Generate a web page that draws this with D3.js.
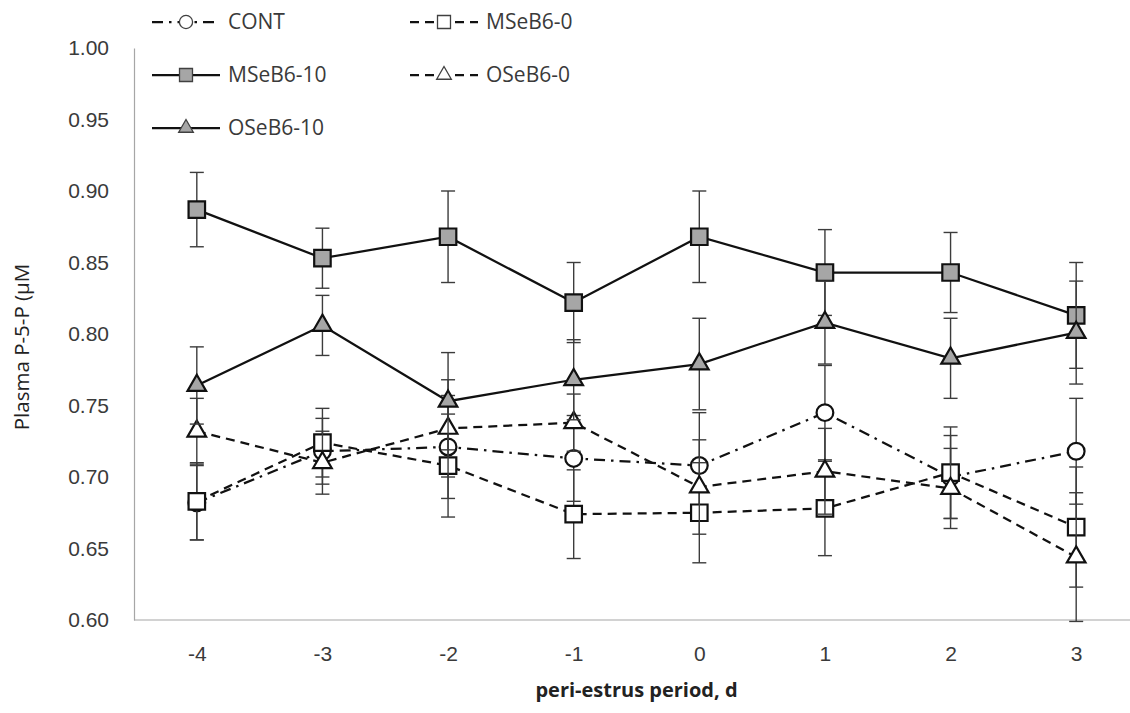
<!DOCTYPE html>
<html>
<head>
<meta charset="utf-8">
<script src="https://cdn.jsdelivr.net/npm/d3@7/dist/d3.min.js"></script>
<style>
  html, body { margin: 0; padding: 0; background: #fff; }
  svg { display: block; font-family: "Open Sans", "Noto Sans", sans-serif; }
</style>
</head>
<body>
<svg id="chart" width="1130" height="713"></svg>
<script>
// Peri-estrus days
const days = [-4, -3, -2, -1, 0, 1, 2, 3];

// Plasma P-5-P (µM), mean and SEM per treatment
const contMean   = [0.682, 0.718, 0.721, 0.713, 0.708, 0.745, 0.700, 0.718];
const contSem    = [0.026, 0.023, 0.036, 0.030, 0.037, 0.033, 0.029, 0.037];
const mseb0Mean  = [0.683, 0.724, 0.708, 0.674, 0.675, 0.678, 0.703, 0.665];
const mseb0Sem   = [0.027, 0.024, 0.036, 0.031, 0.035, 0.033, 0.032, 0.042];
const mseb10Mean = [0.887, 0.853, 0.868, 0.822, 0.868, 0.843, 0.843, 0.813];
const mseb10Sem  = [0.026, 0.021, 0.032, 0.028, 0.032, 0.030, 0.028, 0.037];
const oseb0Mean  = [0.732, 0.710, 0.734, 0.738, 0.693, 0.704, 0.692, 0.644];
const oseb0Sem   = [0.023, 0.022, 0.034, 0.020, 0.033, 0.030, 0.028, 0.045];
const oseb10Mean = [0.764, 0.806, 0.753, 0.768, 0.779, 0.808, 0.783, 0.801];
const oseb10Sem  = [0.027, 0.021, 0.034, 0.028, 0.032, 0.029, 0.028, 0.036];

const seriesNames = ["CONT", "MSeB6-0", "MSeB6-10", "OSeB6-0", "OSeB6-10"];
const yTicks = [0.60, 0.65, 0.70, 0.75, 0.80, 0.85, 0.90, 0.95, 1.00];
const xTitle = "peri-estrus period, d";
const yTitle = "Plasma P-5-P (\u03BCM";

// Visual style per series
const styles = {
  "CONT":     { symbol: d3.symbolCircle,   size: 220, fill: "#fff",    dash: "11,6,2.5,6" },
  "MSeB6-0":  { symbol: d3.symbolSquare,   size: 272, fill: "#fff",    dash: "9,6" },
  "MSeB6-10": { symbol: d3.symbolSquare,   size: 272, fill: "#a6a6a6", dash: null },
  "OSeB6-0":  { symbol: d3.symbolTriangle, size: 150, fill: "#fff",    dash: "9,6" },
  "OSeB6-10": { symbol: d3.symbolTriangle, size: 150, fill: "#a6a6a6", dash: null }
};

const series = [
  { name: seriesNames[0], mean: contMean,   sem: contSem },
  { name: seriesNames[1], mean: mseb0Mean,  sem: mseb0Sem },
  { name: seriesNames[2], mean: mseb10Mean, sem: mseb10Sem },
  { name: seriesNames[3], mean: oseb0Mean,  sem: oseb0Sem },
  { name: seriesNames[4], mean: oseb10Mean, sem: oseb10Sem }
].map(s => ({ ...s, points: days.map((d, i) => ({ day: d, v: s.mean[i], e: s.sem[i] })) }));

const svg = d3.select("#chart");
const plot = { left: 134, right: 1139, top: 48, bottom: 620 };

const x = d3.scalePoint().domain(days).range([plot.left, plot.right]).padding(0.5);
const y = d3.scaleLinear().domain([0.6, 1.0]).range([plot.bottom, plot.top]);

// Axes
const axisColor = "#a6a6a6";
const textColor = "#3a3a3a";

const yAxis = svg.append("g")
  .attr("transform", `translate(${plot.left},0)`)
  .call(d3.axisLeft(y).tickValues(yTicks).tickFormat(d3.format(".2f")).tickSize(0).tickPadding(25));
yAxis.select(".domain").attr("stroke", axisColor).attr("stroke-width", 1.2);
yAxis.selectAll("text").attr("font-size", 21).attr("fill", textColor);

const xAxis = svg.append("g")
  .attr("transform", `translate(0,${plot.bottom})`)
  .call(d3.axisBottom(x).tickSize(0).tickPadding(26).tickFormat(d => String(d)));
xAxis.select(".domain").attr("d", `M${plot.left},0H1130`).attr("stroke", axisColor).attr("stroke-width", 1.2);
xAxis.selectAll("text").attr("font-size", 21).attr("fill", textColor);

svg.append("text")
  .attr("x", (plot.left + plot.right) / 2).attr("y", 697)
  .attr("text-anchor", "middle").attr("font-size", 20).attr("font-weight", "bold")
  .attr("fill", "#222").text(xTitle);

svg.append("text")
  .attr("transform", "translate(29,347) rotate(-90)")
  .attr("text-anchor", "middle").attr("font-size", 20.5)
  .attr("fill", "#222").text(yTitle);

// Series: connecting line, error bars, markers
const line = d3.line().x(d => x(d.day)).y(d => y(d.v));
const capHalf = 7;

series.forEach(s => {
  const st = styles[s.name];
  const g = svg.append("g").attr("class", "series");

  g.append("path")
    .attr("d", line(s.points))
    .attr("fill", "none").attr("stroke", "#111").attr("stroke-width", 2.25)
    .attr("stroke-dasharray", st.dash);

  const eb = g.selectAll(".eb").data(s.points).join("g").attr("class", "eb")
    .attr("stroke", "#3c3c3c").attr("stroke-width", 1.4);
  eb.append("line")
    .attr("x1", d => x(d.day)).attr("x2", d => x(d.day))
    .attr("y1", d => y(d.v + d.e)).attr("y2", d => y(d.v - d.e));
  eb.append("line")
    .attr("x1", d => x(d.day) - capHalf).attr("x2", d => x(d.day) + capHalf)
    .attr("y1", d => y(d.v + d.e)).attr("y2", d => y(d.v + d.e));
  eb.append("line")
    .attr("x1", d => x(d.day) - capHalf).attr("x2", d => x(d.day) + capHalf)
    .attr("y1", d => y(d.v - d.e)).attr("y2", d => y(d.v - d.e));

  g.selectAll(".mk").data(s.points).join("path").attr("class", "mk")
    .attr("transform", d => `translate(${x(d.day)},${y(d.v)})`)
    .attr("d", d3.symbol(st.symbol, st.size)())
    .attr("fill", st.fill).attr("stroke", "#111").attr("stroke-width", 2.2);
});

// Legend
const legendItems = [
  { name: "CONT",     col: 0, row: 0 },
  { name: "MSeB6-0",  col: 1, row: 0 },
  { name: "MSeB6-10", col: 0, row: 1 },
  { name: "OSeB6-0",  col: 1, row: 1 },
  { name: "OSeB6-10", col: 0, row: 2 }
];
const colX = [152, 410];
const rowY = [22, 75, 128];
const sampleW = 68;

const legend = svg.append("g").attr("class", "legend");
legendItems.forEach(item => {
  const st = styles[item.name];
  const lx = colX[item.col], ly = rowY[item.row];
  const g = legend.append("g").attr("transform", `translate(${lx},${ly})`);
  g.append("line")
    .attr("x1", 0).attr("x2", sampleW).attr("y1", 0).attr("y2", 0)
    .attr("stroke", "#111").attr("stroke-width", 2.25)
    .attr("stroke-dasharray", st.dash);
  g.append("path")
    .attr("transform", `translate(${sampleW / 2},0)`)
    .attr("d", d3.symbol(st.symbol, st.size * 0.62)())
    .attr("fill", st.fill).attr("stroke", "#404040").attr("stroke-width", 1.3);
  g.append("text")
    .attr("x", sampleW + 8).attr("y", 0).attr("dy", "0.35em")
    .attr("font-size", 21).attr("fill", textColor).text(item.name);
});
</script>
</body>
</html>
